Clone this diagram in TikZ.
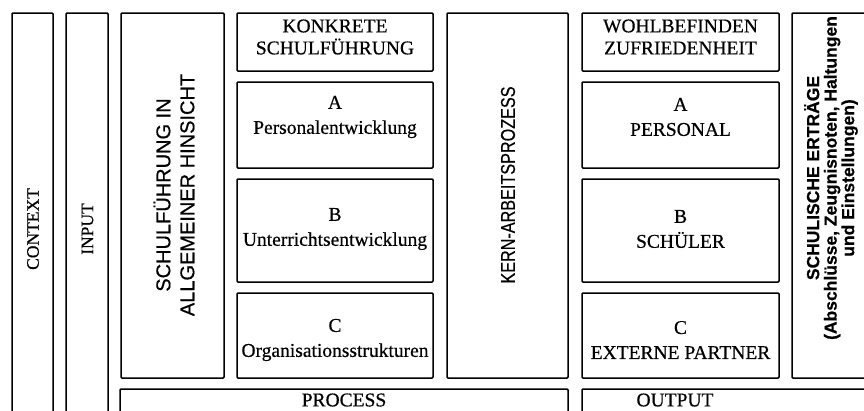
\documentclass[tikz,border=0pt]{standalone}
\usepackage{fontspec}
\setmainfont{Liberation Serif}[FakeBold=0.5]
\setsansfont{Liberation Sans}[FakeBold=0.5]
\begin{document}
\begin{tikzpicture}[x=1pt,y=-1pt]
\tikzset{
  box/.style={draw, line width=1.5pt, rounded corners=1pt, inner sep=0pt},
  serif/.style={font=\fontsize{19.5}{22}\selectfont, align=center, inner sep=0pt},
  vserif/.style={font=\fontsize{17.5}{20}\selectfont, rotate=90, inner sep=0pt},
  vsans/.style={font=\sffamily\fontsize{20}{24}\selectfont, rotate=90, align=center, inner sep=0pt},
  vkern/.style={font=\sffamily\fontsize{20}{24}\selectfont, rotate=90, inner sep=0pt},
  vsmall/.style={font=\sffamily\bfseries\fontsize{17.5}{17.5}\selectfont, rotate=90, align=center, inner sep=0pt},
}
\useasboundingbox (0,0) rectangle (864,410);
\clip (0,0) rectangle (864,410);
\fill[white] (0,0) rectangle (864,410);
% left columns
\node[box, minimum width=41pt, minimum height=417pt] (context) at (32.5,221.5) {};
\node[vserif] (contextT) at (33,229) {CONTEXT};
\node[box, minimum width=42pt, minimum height=417pt] (input) at (87,221.5) {};
\node[vserif] (inputT) at (87.5,229) {INPUT};
\node[box, minimum width=103pt, minimum height=365pt] (schul) at (172.5,195.5) {};
\node[vsans] (schulT) at (174,195) {SCHULFÜHRUNG IN\\ALLGEMEINER HINSICHT};
% middle column
\node[box, minimum width=196pt, minimum height=58pt] (konk) at (335,42) {};
\node[serif] (konkT) at (335,37) {KONKRETE\\SCHULFÜHRUNG};
\node[box, minimum width=196pt, minimum height=86pt] (pa) at (335,125) {};
\node[serif] (paT) at (335,117) {A\\[3pt]Personalentwicklung};
\node[box, minimum width=196pt, minimum height=103pt] (pb) at (335,230.5) {};
\node[serif] (pbT) at (335,229) {B\\[3pt]Unterrichtsentwicklung};
\node[box, minimum width=196pt, minimum height=85pt] (pc) at (335,335.5) {};
\node[serif] (pcT) at (335,340) {C\\[3pt]Organisationsstrukturen};
% kern
\node[box, minimum width=121pt, minimum height=365pt] (kern) at (507.5,195.5) {};
\node[vkern] (kernT) at (508,185) {\scalebox{0.81}[1]{KERN-ARBEITSPROZESS}};
% right column
\node[box, minimum width=197pt, minimum height=58pt] (wohl) at (680.5,42) {};
\node[serif] (wohlT) at (680.5,37) {WOHLBEFINDEN\\ZUFRIEDENHEIT};
\node[box, minimum width=197pt, minimum height=86pt] (oa) at (680.5,125) {};
\node[serif] (oaT) at (680.5,117) {A\\[3pt]PERSONAL};
\node[box, minimum width=197pt, minimum height=103pt] (ob) at (680.5,230.5) {};
\node[serif] (obT) at (680.5,229) {B\\[3pt]SCHÜLER};
\node[box, minimum width=197pt, minimum height=85pt] (oc) at (680.5,335.5) {};
\node[serif] (ocT) at (680.5,340) {C\\[3pt]EXTERNE PARTNER};
% ertraege
\node[box, minimum width=88pt, minimum height=365pt] (ertr) at (836,195.5) {};
\node[vsmall] (ertrT) at (831,178) {SCHULISCHE ERTRÄGE\\(Abschlüsse, Zeugnisnoten, Haltungen\\und Einstellungen)};
% bottom
\node[box, minimum width=448pt, minimum height=51pt] (process) at (344,414.5) {};
\node[serif] (processT) at (344,400) {PROCESS};
\node[box, minimum width=298pt, minimum height=51pt] (output) at (731,414.5) {};
\node[serif] (outputT) at (675,400) {OUTPUT};
\end{tikzpicture}
\end{document}
